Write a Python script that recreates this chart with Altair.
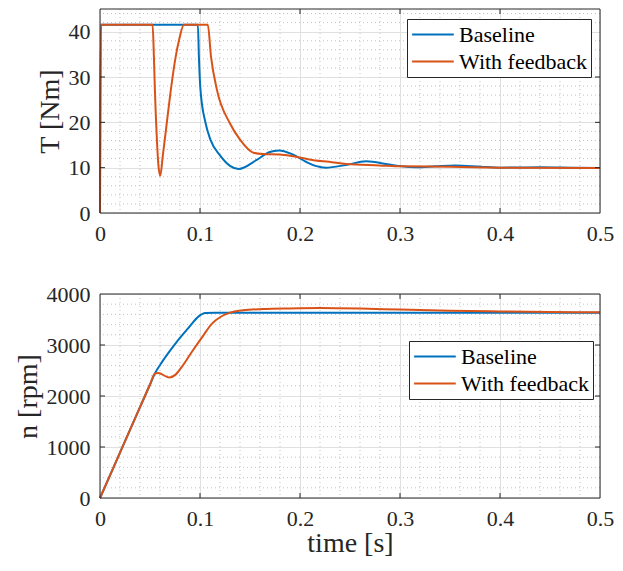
import altair as alt
import pandas as pd

series_names = ["Baseline", "With feedback"]
series_colors = ["#0072BD", "#D95319"]

# ---- Torque T [Nm] ----
t_T_base = [0, 0.0008, 0.0979, 0.0989, 0.1005, 0.1055, 0.1104, 0.1204, 0.130, 0.1386,
            0.1567, 0.169, 0.179, 0.192, 0.206, 0.2155, 0.226, 0.246, 0.266, 0.289,
            0.302, 0.316, 0.335, 0.355, 0.381, 0.40, 0.44, 0.47, 0.5]
T_base = [0, 41.5, 41.5, 34.5, 27.1, 19.9, 16.2, 12.6, 10.4, 9.7,
          11.7, 13.4, 13.8, 13.0, 11.3, 10.4, 10.0, 10.6, 11.4, 10.7,
          10.3, 10.1, 10.3, 10.5, 10.2, 10.0, 10.1, 10.0, 9.9]

t_T_fb = [0, 0.0008, 0.0526, 0.0539, 0.0549, 0.0569, 0.0582, 0.0602, 0.0628, 0.0668,
          0.0708, 0.0757, 0.079, 0.084, 0.1078, 0.111, 0.117, 0.1296, 0.140, 0.1535,
          0.163, 0.179, 0.196, 0.2155, 0.229, 0.246, 0.279, 0.302, 0.35, 0.40, 0.5]
T_fb = [0, 41.5, 41.5, 34.5, 27.1, 16.2, 11.1, 8.2, 12.6, 19.9,
        27.1, 34.5, 38.1, 41.5, 41.5, 34.5, 27.1, 19.9, 16.2, 13.3,
        13.0, 12.9, 12.4, 11.6, 11.3, 10.8, 10.5, 10.3, 10.2, 10.0, 9.9]

# ---- Speed n [rpm] ----
t_n_base = [0, 0.02, 0.04, 0.05, 0.0548, 0.0624, 0.0756, 0.0888, 0.0987, 0.1053,
            0.115, 0.2, 0.3, 0.4, 0.5]
n_base = [0, 890, 1780, 2225, 2439, 2678, 3033, 3343, 3561, 3626,
          3632, 3632, 3632, 3630, 3630]

t_n_fb = [0, 0.02, 0.04, 0.05, 0.0548, 0.0582, 0.0691, 0.0756, 0.0822, 0.0921,
          0.102, 0.112, 0.1204, 0.13, 0.143, 0.163, 0.19, 0.22, 0.26, 0.3,
          0.35, 0.4, 0.45, 0.5]
n_fb = [0, 890, 1780, 2225, 2439, 2452, 2361, 2419, 2582, 2872,
        3149, 3420, 3549, 3635, 3680, 3705, 3718, 3725, 3715, 3695,
        3672, 3657, 3648, 3640]

# ---- Axis ticks and grid ----
x_major = [0, 0.1, 0.2, 0.3, 0.4, 0.5]
x_minor = [round(i * 0.02, 2) for i in range(1, 25) if i % 5 != 0]
T_major = [0, 10, 20, 30, 40]
T_minor = [v for v in range(2, 45, 2) if v % 10 != 0]
n_major = [0, 1000, 2000, 3000, 4000]
n_minor = [v for v in range(200, 4000, 200) if v % 1000 != 0]

W, H = 500, 204
FONT = "Liberation Serif"
DARK = "#262626"


def frame_df(ts, vs, name):
    return pd.DataFrame({"t": ts, "v": vs, "series": name})


def axis_common():
    return dict(
        grid=True,
        gridColor="#e0e0e0",
        gridWidth=1,
        ticks=False,
        domain=False,
        labelOverlap=False,
        labelFont=FONT,
        labelFontSize=22,
        labelColor=DARK,
        titleFont=FONT,
        titleFontSize=28,
        titleFontWeight="normal",
        titleColor=DARK,
    )


def panel(df, y_title, y_max, y_major, y_minor, y_fmt, x_title, legend_xy):
    xs = alt.Scale(domain=[0, 0.5], nice=False)
    ys = alt.Scale(domain=[0, y_max], nice=False)

    xa = axis_common()
    xa.update(values=x_major, format="~g", labelFlush=False, labelPadding=10,
              titlePadding=0)
    ya = axis_common()
    ya.update(values=y_major, format=y_fmt, labelPadding=10, titlePadding=4)

    def X():
        if x_title:
            return alt.X("t:Q", scale=xs, axis=alt.Axis(**xa), title=x_title)
        return alt.X("t:Q", scale=xs, axis=alt.Axis(**xa), title=None)

    def Y():
        return alt.Y("v:Q", scale=ys, axis=alt.Axis(**ya), title=y_title)

    minor_style = dict(color="#c2c2c2", strokeWidth=1, strokeDash=[1, 3])
    x_minor_rules = alt.Chart(pd.DataFrame({"t": x_minor})).mark_rule(**minor_style).encode(
        x=X())
    y_minor_rules = alt.Chart(pd.DataFrame({"v": y_minor})).mark_rule(**minor_style).encode(
        y=Y())

    lines = alt.Chart(df).mark_line(strokeWidth=2, interpolate="monotone").encode(
        x=X(),
        y=Y(),
        color=alt.Color(
            "series:N",
            scale=alt.Scale(domain=series_names, range=series_colors),
            title=None,
            legend=alt.Legend(
                orient="none", legendX=legend_xy[0], legendY=legend_xy[1],
                symbolType="M-1,0H3", symbolSize=435, symbolStrokeWidth=2,
                labelFont=FONT, labelFontSize=22, labelColor="#000000",
                strokeColor=DARK, fillColor="white", padding=4,
                rowPadding=4, labelOffset=25, cornerRadius=0,
            ),
        ),
        order=alt.Order("series:N"),
    )

    xt = pd.DataFrame({"t": x_major[1:-1]})
    yt = pd.DataFrame({"v": y_major[1:-1]})
    tick_style = dict(color=DARK, strokeWidth=1)
    bottom_ticks = alt.Chart(xt).mark_rule(**tick_style).encode(
        x=X(), y=alt.value(H - 5), y2=alt.value(H))
    top_ticks = alt.Chart(xt).mark_rule(**tick_style).encode(
        x=X(), y=alt.value(0), y2=alt.value(5))
    left_ticks = alt.Chart(yt).mark_rule(**tick_style).encode(
        y=Y(), x=alt.value(0), x2=alt.value(5))
    right_ticks = alt.Chart(yt).mark_rule(**tick_style).encode(
        y=Y(), x=alt.value(W - 5), x2=alt.value(W))
    box = alt.Chart(pd.DataFrame({"k": [0]})).mark_rect(
        filled=False, stroke=DARK, strokeWidth=1).encode(
        x=alt.value(0), x2=alt.value(W), y=alt.value(0), y2=alt.value(H))

    return alt.layer(x_minor_rules, y_minor_rules, lines, bottom_ticks, top_ticks,
                     left_ticks, right_ticks, box).properties(width=W, height=H)


df_T = pd.concat([frame_df(t_T_base, T_base, series_names[0]),
                  frame_df(t_T_fb, T_fb, series_names[1])], ignore_index=True)
df_n = pd.concat([frame_df(t_n_base, n_base, series_names[0]),
                  frame_df(t_n_fb, n_fb, series_names[1])], ignore_index=True)

top = panel(df_T, "T [Nm]", 45, T_major, T_minor, "d", "", (307, 10))
bottom = panel(df_n, "n [rpm]", 4000, n_major, n_minor, "d", "time [s]", (309, 47))

chart = alt.vconcat(top, bottom, spacing=37).resolve_legend(
    color="independent").resolve_scale(color="independent").properties(
    padding={"left": 5, "top": 0, "right": 0, "bottom": 0},
    background="white",
).configure_view(stroke="transparent")

chart.save("out.html", embed_options={"renderer": "svg", "actions": False})
